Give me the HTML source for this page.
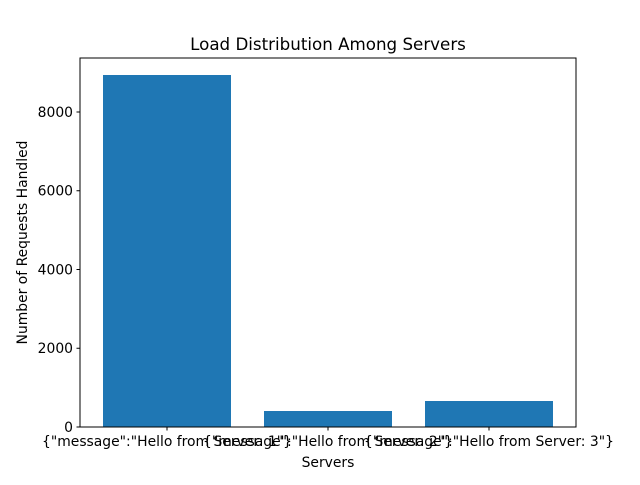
<!DOCTYPE html>
<html><head><style>html,body{margin:0;padding:0;background:#fff;}</style></head>
<body>
<svg width="640" height="480" xmlns="http://www.w3.org/2000/svg" font-family="DejaVu Sans, sans-serif">
<rect width="640" height="480" fill="#fff"/>
<rect x="103" y="75" width="128" height="352" fill="#1f77b4"/>
<rect x="264" y="411" width="128" height="16" fill="#1f77b4"/>
<rect x="425" y="401" width="128" height="26" fill="#1f77b4"/>
<rect x="80" y="58" width="496" height="369" fill="none" stroke="#000" stroke-width="1"/>
<g stroke="#000" stroke-width="1">
<line x1="76.5" y1="427" x2="80" y2="427"/>
<line x1="76.5" y1="348.25" x2="80" y2="348.25"/>
<line x1="76.5" y1="269.5" x2="80" y2="269.5"/>
<line x1="76.5" y1="190.75" x2="80" y2="190.75"/>
<line x1="76.5" y1="112" x2="80" y2="112"/>
<line x1="167" y1="427" x2="167" y2="430.5"/>
<line x1="328" y1="427" x2="328" y2="430.5"/>
<line x1="489" y1="427" x2="489" y2="430.5"/>
</g>
<g font-size="13.9" text-anchor="end" fill="#000">
<text x="73" y="432">0</text>
<text x="73" y="353">2000</text>
<text x="73" y="274.5">4000</text>
<text x="73" y="195.5">6000</text>
<text x="73" y="117">8000</text>
</g>
<g font-size="13.9" text-anchor="middle" fill="#000">
<text x="167" y="446">{"message":"Hello from Server: 1"}</text>
<text x="328" y="446">{"message":"Hello from Server: 2"}</text>
<text x="489" y="446">{"message":"Hello from Server: 3"}</text>
<text x="328" y="467">Servers</text>
<text x="328" y="50" font-size="16.7">Load Distribution Among Servers</text>
<text transform="translate(27,242.5) rotate(-90)">Number of Requests Handled</text>
</g>
</svg>
</body></html>
